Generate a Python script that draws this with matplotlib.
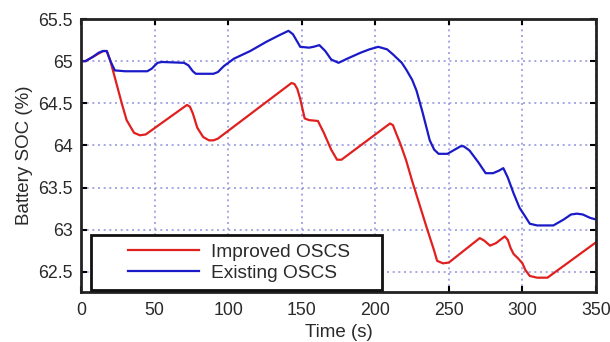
import numpy as np
import matplotlib
matplotlib.use("Agg")
import matplotlib.pyplot as plt
from matplotlib.patches import Rectangle

plt.rcParams['font.family'] = ['Liberation Sans', 'DejaVu Sans']

# Improved OSCS (red)
t_imp = [0, 3, 8, 15, 17.5, 20, 24, 28, 31, 36, 40, 44, 72, 74, 76, 79, 83, 87, 90,
         93, 143, 145, 147, 149, 152, 155, 161, 165, 170, 174, 177, 210, 212, 214,
         217, 221, 225, 230, 235, 240, 242, 246, 250, 271, 274, 278, 282, 288,
         290, 292, 294, 297, 300, 302, 305, 310, 317, 350]
y_imp = [65.0, 65.0, 65.05, 65.12, 65.12, 65.0, 64.74, 64.48, 64.3, 64.15, 64.12,
         64.13, 64.48, 64.46, 64.38, 64.21, 64.1, 64.06, 64.06, 64.08, 64.74, 64.73,
         64.67, 64.55, 64.32, 64.3, 64.29, 64.15, 63.95, 63.83, 63.83, 64.26, 64.24,
         64.15, 64.02, 63.82, 63.58, 63.3, 63.02, 62.75, 62.63, 62.6, 62.61, 62.9,
         62.87, 62.81, 62.84, 62.92, 62.88, 62.78, 62.71, 62.66, 62.6, 62.52,
         62.45, 62.43, 62.43, 62.85]

# Existing OSCS (blue)
t_ext = [0, 3, 8, 12, 15, 17.5, 20, 23, 30, 45, 48, 52, 55, 70, 73, 76, 78, 90, 93,
         97, 104, 115, 126, 135, 141, 144, 149, 155, 158, 162, 166, 170, 175, 181,
         190, 196, 202, 208, 212, 215, 218, 221, 225, 228, 232, 237, 240, 243, 249,
         254, 258, 260, 264, 270, 275, 280, 284, 287, 290, 294, 298, 301, 305,
         310, 321, 328, 333, 337, 341, 346, 350]
y_ext = [65.0, 65.0, 65.05, 65.1, 65.12, 65.12, 65.0, 64.89, 64.88, 64.88, 64.91,
         64.98, 64.99, 64.98, 64.95, 64.88, 64.85, 64.85, 64.87, 64.94, 65.03,
         65.12, 65.23, 65.31, 65.36, 65.32, 65.17, 65.16, 65.17, 65.19, 65.12,
         65.02, 64.98, 65.03, 65.1, 65.14, 65.17, 65.14, 65.08, 65.03, 64.98,
         64.9, 64.78, 64.65, 64.4, 64.06, 63.95, 63.9, 63.9, 63.95, 63.99, 63.99,
         63.94, 63.8, 63.67, 63.67, 63.7, 63.73, 63.62, 63.43, 63.26, 63.18,
         63.07, 63.05, 63.05, 63.12, 63.18, 63.19, 63.18, 63.14, 63.12]

xticks = [0, 50, 100, 150, 200, 250, 300, 350]
yticks = [62.5, 63, 63.5, 64, 64.5, 65, 65.5]
ytick_labels = ['62.5', '63', '63.5', '64', '64.5', '65', '65.5']

txt = '#2a2a2a'

fig = plt.figure(figsize=(6.1, 3.42), dpi=100)
ax = fig.add_axes([0.1328, 0.1462, 0.8443, 0.7982])

ax.plot(t_imp, y_imp, color='#e0201f', lw=1.6, label='Improved OSCS')
ax.plot(t_ext, y_ext, color='#1a1ac8', lw=1.6, label='Existing OSCS')

ax.set_xlim(0, 350)
ax.set_ylim(62.26, 65.5)
ax.set_xticks(xticks)
ax.set_yticks(yticks)
ax.set_yticklabels(ytick_labels)
ax.tick_params(direction='in', length=4, width=1.5, labelsize=12.8,
               top=True, right=True, colors='black', labelcolor=txt, pad=6)
ax.tick_params(axis='x', pad=7)
ax.grid(True, color='#9a9ae0', linestyle=(0, (1.2, 2.2)), linewidth=1.2)
for s in ax.spines.values():
    s.set_linewidth(2)
    s.set_color('#222222')

ax.set_xlabel('Time (s)', fontsize=13.5, labelpad=4, color=txt)
ax.set_ylabel('Battery SOC (%)', fontsize=13.5, labelpad=4, color=txt)

# legend box, drawn like the boxed MATLAB legend
bx, by, bw, bh = 0.019, 0.007, 0.566, 0.2
ax.add_patch(Rectangle((bx, by), bw, bh, transform=ax.transAxes, facecolor='white',
                       edgecolor='#111111', lw=2, zorder=5))
leg = ax.legend(loc='center', bbox_to_anchor=(bx + bw / 2 + 0.005, by + bh / 2),
                frameon=False, fontsize=13.8, handlelength=3.7, handletextpad=0.6,
                labelspacing=0.2)
leg.set_zorder(6)
for t in leg.get_texts():
    t.set_color(txt)

fig.savefig('out.png', dpi=100)
